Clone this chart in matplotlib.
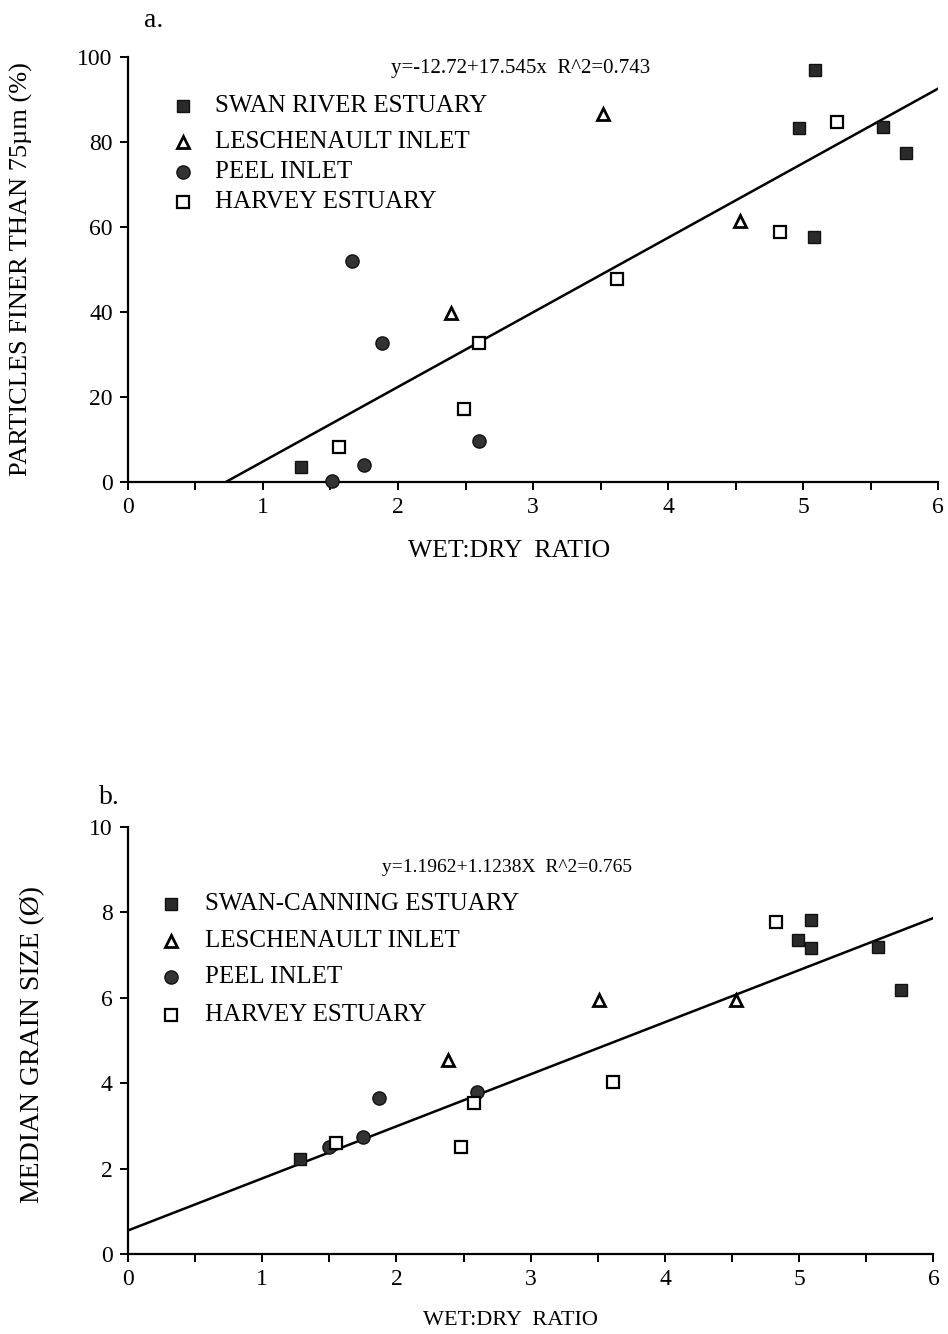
import matplotlib
matplotlib.use("Agg")
import matplotlib.pyplot as plt
from matplotlib.ticker import MultipleLocator

plt.rcParams['font.family'] = ['Liberation Serif', 'DejaVu Serif']

# ---------------- Panel a data ----------------
a_swan_x = [1.28, 5.09, 4.97, 5.59, 5.76, 5.08]
a_swan_y = [3.5, 96.9, 83.3, 83.6, 77.5, 57.6]
a_lesch_x = [3.52, 4.53, 2.39]
a_lesch_y = [86.5, 61.5, 39.8]
a_peel_x = [1.66, 1.88, 2.60, 1.75, 1.51]
a_peel_y = [52.0, 32.7, 9.6, 4.0, 0.3]
a_harvey_x = [1.56, 2.49, 2.60, 3.62, 4.83, 5.25]
a_harvey_y = [8.2, 17.1, 32.7, 47.8, 58.8, 84.6]
a_intercept, a_slope = -12.72, 17.545
a_equation = "y=-12.72+17.545x  R^2=0.743"
a_legend = ["SWAN RIVER ESTUARY", "LESCHENAULT INLET", "PEEL INLET", "HARVEY ESTUARY"]

# ---------------- Panel b data ----------------
b_swan_x = [1.28, 5.09, 4.99, 5.09, 5.59, 5.76]
b_swan_y = [2.22, 7.82, 7.35, 7.17, 7.19, 6.18]
b_lesch_x = [3.51, 4.53, 2.38]
b_lesch_y = [5.95, 5.95, 4.54]
b_peel_x = [1.87, 2.60, 1.75, 1.50]
b_peel_y = [3.65, 3.79, 2.74, 2.51]
b_harvey_x = [1.55, 2.48, 2.58, 3.61, 4.83]
b_harvey_y = [2.60, 2.51, 3.54, 4.03, 7.78]
b_line_intercept, b_line_slope = 0.55, 1.22
b_equation = "y=1.1962+1.1238X  R^2=0.765"
b_legend = ["SWAN-CANNING ESTUARY", "LESCHENAULT INLET", "PEEL INLET", "HARVEY ESTUARY"]

x_ticks = [0, 1, 2, 3, 4, 5, 6]

fig = plt.figure(figsize=(9.48, 13.34), dpi=100)
ax1 = fig.add_axes([0.135, 0.6387, 0.8545, 0.3186])
ax2 = fig.add_axes([0.135, 0.0600, 0.8497, 0.3200])

styles = [
    dict(marker='s', ms=9, mfc='#2a2a2a', mec='#111111', mew=1.0),
    dict(marker='^', ms=8, mfc='white', mec='black', mew=2.0),
    dict(marker='o', ms=9.5, mfc='#333333', mec='#111111', mew=1.0),
    dict(marker='s', ms=8.8, mfc='white', mec='black', mew=1.6),
]


def style_axes(ax, ymax, ystep):
    ax.set_xlim(0, 6)
    ax.set_ylim(0, ymax)
    for s in ['top', 'right']:
        ax.spines[s].set_visible(False)
    for s in ['left', 'bottom']:
        ax.spines[s].set_linewidth(1.6)
    ax.set_xticks(x_ticks)
    ax.xaxis.set_minor_locator(MultipleLocator(0.5))
    ax.yaxis.set_major_locator(MultipleLocator(ystep))
    ax.tick_params(axis='both', which='both', direction='out', width=1.4,
                   length=6, labelsize=17, pad=5)
    ax.tick_params(axis='y', which='minor', left=False)
    for sp in ax.spines.values():
        sp.set_clip_on(False)


def draw_legend(ax, labels, x_mark, x_text, ys, fs):
    for lab, st, yy in zip(labels, styles, ys):
        ax.plot([x_mark], [yy], transform=ax.transAxes, ls='none', clip_on=False, **st)
        ax.text(x_text, yy, lab, transform=ax.transAxes, fontsize=fs,
                va='center', ha='left')


def place_labels(ax, xlab, xfs, xpos, ylab, yfs, ypos):
    ax.set_xlabel(xlab, fontsize=xfs)
    ax.set_ylabel(ylab, fontsize=yfs)
    ax.xaxis.set_label_coords(*xpos)
    ax.yaxis.set_label_coords(*ypos)
    ax.xaxis.label.set_va('center')
    ax.yaxis.label.set_va('center')


# ---------------- Panel a ----------------
style_axes(ax1, 100, 20)
series_a = [(a_swan_x, a_swan_y), (a_lesch_x, a_lesch_y),
            (a_peel_x, a_peel_y), (a_harvey_x, a_harvey_y)]
for (xs, ys), st in zip(series_a, styles):
    ax1.plot(xs, ys, ls='none', clip_on=False, zorder=3, **st)
x0 = -a_intercept / a_slope
ax1.plot([x0, 6], [0, a_intercept + a_slope * 6], color='black', lw=1.8, zorder=2)
ax1.text(0.485, 0.973, a_equation, transform=ax1.transAxes, fontsize=15,
         ha='center', va='center')
draw_legend(ax1, a_legend, 0.068, 0.108, [0.884, 0.800, 0.729, 0.659], 18)
place_labels(ax1, "WET:DRY  RATIO", 18.5, (0.47, -0.162),
             "PARTICLES FINER THAN 75\u00b5m (%)", 19, (-0.132, 0.5))
fig.text(0.162, 0.985, "a.", fontsize=20, ha='center', va='center')

# ---------------- Panel b ----------------
style_axes(ax2, 10, 2)
series_b = [(b_swan_x, b_swan_y), (b_lesch_x, b_lesch_y),
            (b_peel_x, b_peel_y), (b_harvey_x, b_harvey_y)]
for (xs, ys), st in zip(series_b, styles):
    ax2.plot(xs, ys, ls='none', clip_on=False, zorder=3, **st)
ax2.plot([0, 6], [b_line_intercept, b_line_intercept + b_line_slope * 6],
         color='black', lw=1.8, zorder=2)
ax2.text(0.47, 0.905, b_equation, transform=ax2.transAxes, fontsize=14,
         ha='center', va='center')
draw_legend(ax2, b_legend, 0.054, 0.096, [0.820, 0.733, 0.649, 0.560], 18)
place_labels(ax2, "WET:DRY  RATIO", 16, (0.475, -0.157),
             "MEDIAN GRAIN SIZE (\u00d8)", 20, (-0.118, 0.49))
fig.text(0.115, 0.402, "b.", fontsize=20, ha='center', va='center')

fig.savefig("out.png", dpi=100)
